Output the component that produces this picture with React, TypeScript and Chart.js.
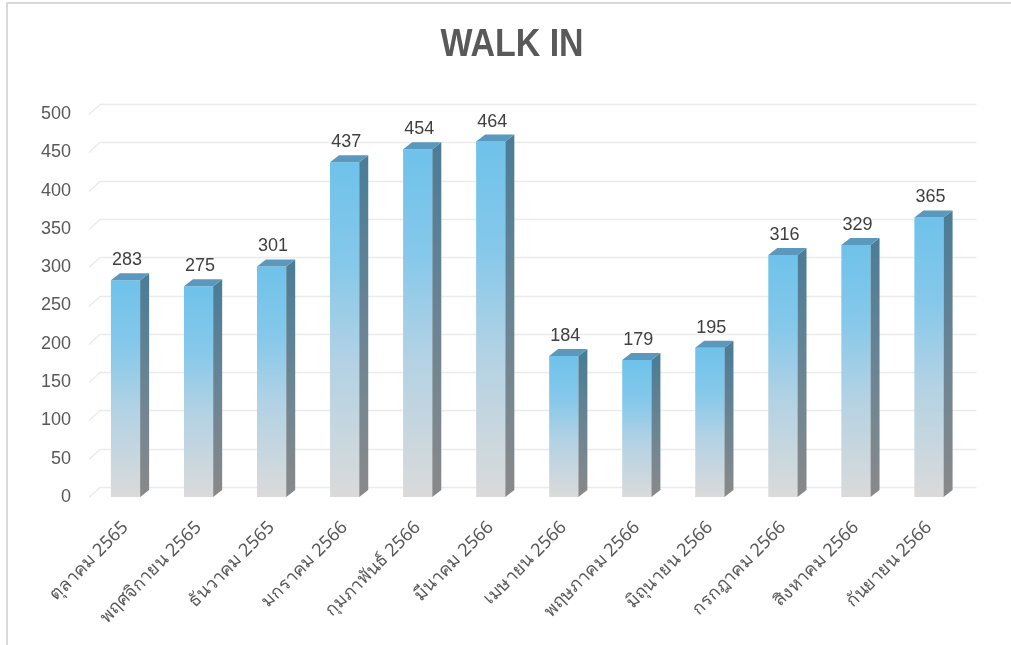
import React, { useEffect, useRef } from "react";
import { Chart, registerables } from "chart.js";

Chart.register(...registerables);

const categories = [
  "ตุลาคม 2565",
  "พฤศจิกายน 2565",
  "ธันวาคม 2565",
  "มกราคม 2566",
  "กุมภาพันธ์ 2566",
  "มีนาคม 2566",
  "เมษายน 2566",
  "พฤษภาคม 2566",
  "มิถุนายน 2566",
  "กรกฎาคม 2566",
  "สิงหาคม 2566",
  "กันยายน 2566",
];
const walkIn = [283, 275, 301, 437, 454, 464, 184, 179, 195, 316, 329, 365];
const yMin = 0;
const yMax = 500;
const yStep = 50;
const titleText = "WALK IN";

const DX = 9;
const DY = 7;
const GDX = 11;
const GDY = 10;

const titlePlugin = {
  id: "titleNarrow",
  afterDraw(chart: any) {
    const { ctx } = chart;
    ctx.save();
    ctx.translate(512, 45);
    ctx.scale(0.87, 1);
    ctx.fillStyle = "#595959";
    ctx.font = "bold 39px 'Liberation Sans', Arial, sans-serif";
    ctx.textAlign = "center";
    ctx.textBaseline = "middle";
    ctx.fillText(titleText, 0, 0);
    ctx.restore();
  },
};

const gridPlugin = {
  id: "grid3d",
  beforeDatasetsDraw(chart: any) {
    const { ctx, chartArea } = chart;
    const y = chart.scales.y;
    ctx.save();
    ctx.strokeStyle = "#EBEBEB";
    ctx.lineWidth = 1.5;
    y.ticks.forEach((t: any) => {
      const yp = Math.round(y.getPixelForValue(t.value)) + 0.5;
      ctx.beginPath();
      ctx.moveTo(chartArea.left, yp);
      ctx.lineTo(chartArea.left + GDX, yp - GDY);
      ctx.lineTo(chartArea.right + GDX, yp - GDY);
      ctx.stroke();
    });
    ctx.restore();
  },
};

const bars3dPlugin = {
  id: "bars3d",
  afterDatasetsDraw(chart: any) {
    const { ctx } = chart;
    const meta = chart.getDatasetMeta(0);
    const data = chart.data.datasets[0].data;
    ctx.save();
    meta.data.forEach((el: any, i: number) => {
      const { x, y, width, base } = el.getProps(["x", "y", "width", "base"], true);
      const left = x - width / 2;
      const right = x + width / 2;
      const sg = ctx.createLinearGradient(0, y, 0, base);
      sg.addColorStop(0, "#4B7D97");
      sg.addColorStop(0.55, "#6E8593");
      sg.addColorStop(1, "#898989");
      ctx.fillStyle = sg;
      ctx.beginPath();
      ctx.moveTo(right, y);
      ctx.lineTo(right + DX, y - DY);
      ctx.lineTo(right + DX, base - DY);
      ctx.lineTo(right, base);
      ctx.closePath();
      ctx.fill();
      ctx.fillStyle = "#5A99BD";
      ctx.beginPath();
      ctx.moveTo(left, y);
      ctx.lineTo(left + DX, y - DY);
      ctx.lineTo(right + DX, y - DY);
      ctx.lineTo(right, y);
      ctx.closePath();
      ctx.fill();
      ctx.fillStyle = "#404040";
      ctx.font = "18px 'Liberation Sans', Arial, sans-serif";
      ctx.textAlign = "center";
      ctx.textBaseline = "alphabetic";
      ctx.fillText(String(data[i]), x + 1.5, y - DY - 8);
    });
    ctx.restore();
  },
};

export default function App() {
  const ref = useRef<HTMLCanvasElement | null>(null);

  useEffect(() => {
    document.body.style.margin = "0";
    if (!ref.current) return;
    const chart = new Chart(ref.current, {
      type: "bar",
      data: {
        labels: categories,
        datasets: [
          {
            label: titleText,
            data: walkIn,
            barPercentage: 0.4,
            categoryPercentage: 1,
            borderWidth: 0,
            backgroundColor: (c: any) => {
              const ch = c.chart;
              const ys = ch.scales && ch.scales.y;
              if (!ys || c.raw == null) return "#9FCBE4";
              const top = ys.getPixelForValue(c.raw);
              const bot = ys.getPixelForValue(0);
              if (!isFinite(top) || !isFinite(bot)) return "#9FCBE4";
              const g = ch.ctx.createLinearGradient(0, top, 0, bot);
              g.addColorStop(0, "#6FC2EA");
              g.addColorStop(0.3, "#85C8EA");
              g.addColorStop(0.6, "#B3D2E4");
              g.addColorStop(1, "#DADADA");
              return g;
            },
          },
        ],
      },
      options: {
        animation: false,
        responsive: false,
        layout: { padding: { left: 0, right: 45.5, top: 114, bottom: 0 } },
        plugins: {
          legend: { display: false },
          tooltip: { enabled: false },
          title: { display: false },
        },
        scales: {
          x: {
            grid: { display: false },
            border: { display: false },
            ticks: {
              color: "#595959",
              maxRotation: 45,
              minRotation: 45,
              autoSkip: false,
              padding: 12,
              font: { family: "'Noto Sans', 'DejaVu Sans', sans-serif", size: 18 },
            },
            afterFit: (s: any) => {
              s.height = 148;
            },
          },
          y: {
            min: yMin,
            max: yMax,
            grid: { display: false },
            border: { display: false },
            ticks: {
              stepSize: yStep,
              color: "#595959",
              padding: 10,
              font: { family: "'Liberation Sans', Arial, sans-serif", size: 18 },
            },
            afterFit: (s: any) => {
              s.width = 89;
            },
          },
        },
      },
      plugins: [gridPlugin, bars3dPlugin, titlePlugin],
    } as any);
    return () => chart.destroy();
  }, []);

  return (
    <div style={{ position: "relative", width: 1011, height: 645, background: "#fff" }}>
      <canvas ref={ref} width={1011} height={645} style={{ display: "block" }} />
      <div style={{ position: "absolute", left: 6, top: 2, right: 0, height: 2, background: "#D9D9D9" }} />
      <div style={{ position: "absolute", left: 6, top: 2, bottom: 0, width: 2, background: "#D9D9D9" }} />
    </div>
  );
}
